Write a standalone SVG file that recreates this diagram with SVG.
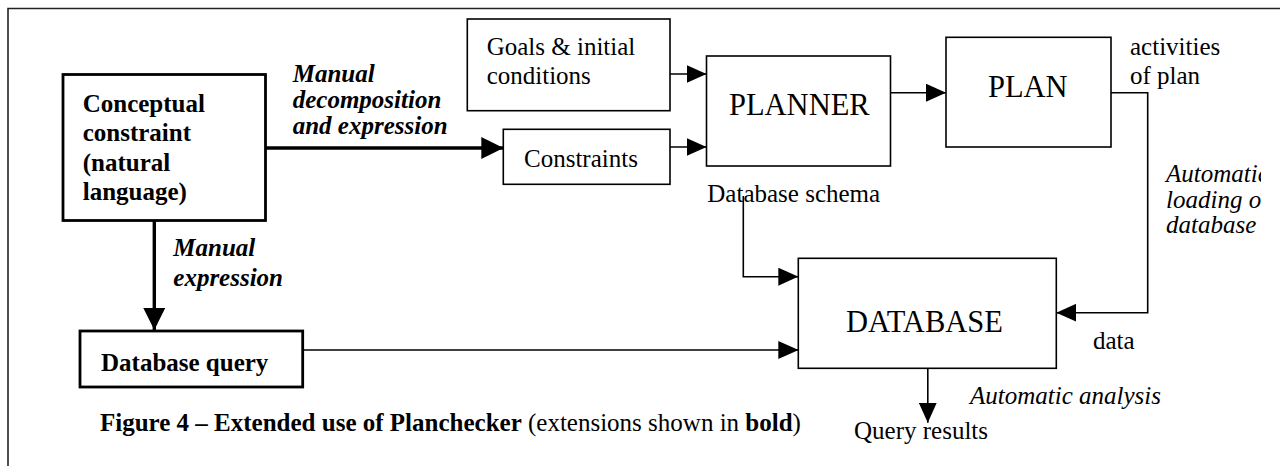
<svg xmlns="http://www.w3.org/2000/svg" width="1280" height="466" viewBox="0 0 1280 466" font-family="'Liberation Serif','Times New Roman',serif">
<style>
text{font-family:"Liberation Serif","Times New Roman",serif;font-size:25px;fill:#000}
.b{font-weight:bold}
.i{font-style:italic}
.bi{font-weight:bold;font-style:italic}
.big{font-size:30.5px}
.box{fill:#fff;stroke:#000;stroke-width:1.6}
.tbox{fill:#fff;stroke:#000;stroke-width:2.8}
.ln{fill:none;stroke:#000;stroke-width:1.6}
.tk{fill:none;stroke:#000;stroke-width:3.4}
.frame{fill:none;stroke:#222;stroke-width:1.6}
</style>
<defs>
<marker id="ah" markerUnits="userSpaceOnUse" markerWidth="20" markerHeight="18" refX="20" refY="9" orient="auto"><path d="M0,0 L20,9 L0,18 z" fill="#000"/></marker>
<marker id="aht" markerUnits="userSpaceOnUse" markerWidth="22" markerHeight="22" refX="22" refY="11" orient="auto"><path d="M0,0 L22,11 L0,22 z" fill="#000"/></marker>
<clipPath id="rc"><rect x="0" y="0" width="1261" height="466"/></clipPath>
</defs>
<rect width="1280" height="466" fill="#fff"/>
<path class="frame" d="M8,466 L8,8.5 L1280,8.5"/>

<g id="connectors">
<path class="tk" d="M265.7,148 L503.3,148" marker-end="url(#aht)"/>
<path class="tk" d="M154.3,220.7 L154.3,330" marker-end="url(#aht)"/>
<path class="ln" d="M302.7,350 L798.3,350" marker-end="url(#ah)"/>
<path class="ln" d="M670,74 L706.5,74" marker-end="url(#ah)"/>
<path class="ln" d="M670,147 L706.5,147" marker-end="url(#ah)"/>
<path class="ln" d="M890.5,92.7 L946,92.7" marker-end="url(#ah)"/>
<path class="ln" d="M1111,92.7 L1147.7,92.7 L1147.7,312.7 L1056.3,312.7" marker-end="url(#ah)"/>
<path class="ln" d="M743.3,196 L743.3,276.7 L798.3,276.7" marker-end="url(#ah)"/>
<path class="ln" d="M927.8,368.3 L927.8,422.7" marker-end="url(#ah)"/>
</g>

<g id="conceptual">
<rect class="tbox" x="63" y="74.5" width="202.5" height="146"/>
<text class="b" x="82.7" y="112">Conceptual</text>
<text class="b" x="82.7" y="141.3">constraint</text>
<text class="b" x="82.7" y="170.6">(natural</text>
<text class="b" x="82.7" y="199.9">language)</text>
</g>

<g id="label-decomp">
<text class="bi" x="292.7" y="81.5">Manual</text>
<text class="bi" x="292.7" y="107.5">decomposition</text>
<text class="bi" x="292.7" y="133.5">and expression</text>
</g>

<g id="label-manual-expr">
<text class="bi" x="173.3" y="256">Manual</text>
<text class="bi" x="173.3" y="285.5">expression</text>
</g>

<g id="dbquery">
<rect class="tbox" x="80" y="331" width="222.7" height="56"/>
<text class="b" x="101" y="371">Database query</text>
</g>

<g id="goals">
<rect class="box" x="467.3" y="19" width="202.7" height="91.7"/>
<text x="486.7" y="55">Goals &amp; initial</text>
<text x="486.7" y="84">conditions</text>
</g>

<g id="constraints">
<rect class="box" x="503.3" y="129.3" width="166.7" height="55"/>
<text x="524" y="166.7">Constraints</text>
</g>

<g id="planner">
<rect class="box" x="706.5" y="56" width="184" height="110"/>
<text class="big" x="729" y="115">PLANNER</text>
</g>

<g id="plan">
<rect class="box" x="946" y="37.3" width="165" height="109.7"/>
<text class="big" x="988" y="96.5">PLAN</text>
</g>

<g id="database">
<rect class="box" x="798.3" y="258.3" width="258" height="110"/>
<text class="big" x="846" y="331.7">DATABASE</text>
</g>

<g id="labels">
<text x="1130" y="55">activities</text>
<text x="1130" y="83.5">of plan</text>
<g clip-path="url(#rc)">
<text class="i" x="1166" y="182">Automatic</text>
<text class="i" x="1166" y="207.5">loading of</text>
<text class="i" x="1166" y="233">database</text>
</g>
<text x="707.3" y="202">Database schema</text>
<text x="1093" y="349">data</text>
<text class="i" x="970" y="404">Automatic analysis</text>
<text x="854" y="439">Query results</text>
</g>

<g id="caption">
<text x="100" y="431"><tspan class="b">Figure 4 – Extended use of Planchecker</tspan> (extensions shown in <tspan class="b">bold</tspan>)</text>
</g>
</svg>
